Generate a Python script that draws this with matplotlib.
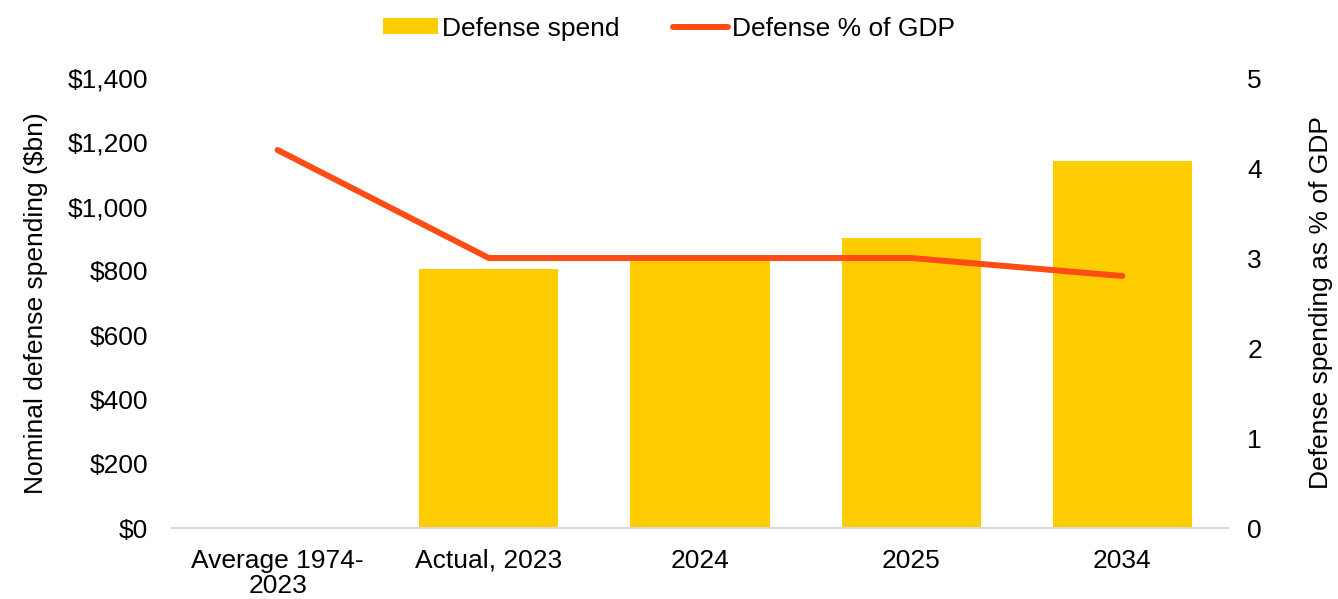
import numpy as np
import matplotlib.pyplot as plt

plt.rcParams['font.family'] = ['Liberation Sans', 'DejaVu Sans']

# categories and series
categories = ['Average 1974-\n2023', 'Actual, 2023', '2024', '2025', '2034']
spend = [np.nan, 806, 838, 903, 1143]      # $bn
pct_gdp = [4.2, 3.0, 3.0, 3.0, 2.8]        # % of GDP

bar_color = '#FFCC00'
line_color = '#FF4B14'
fs = 19

fig = plt.figure(figsize=(13.38, 5.99), dpi=100)
ax = fig.add_axes([172 / 1338, 71 / 599, 1056 / 1338, 450 / 599])
ax2 = ax.twinx()

x = np.arange(len(categories))
ax.bar(x, spend, width=0.66, color=bar_color, label='Defense spend', zorder=2)
ax2.plot(x, pct_gdp, color=line_color, lw=4.3, solid_capstyle='round',
         label='Defense % of GDP', zorder=3)

ax.set_xlim(-0.5, len(categories) - 0.5)
ax.set_ylim(0, 1400)
ax.set_yticks(np.arange(0, 1401, 200))
ax.set_yticklabels(['${:,}'.format(v) for v in range(0, 1401, 200)])
ax2.set_ylim(0, 5)
ax2.set_yticks(range(6))

ax.set_xticks(x)
ax.set_xticklabels(categories, fontsize=fs, linespacing=1.08)

for a in (ax, ax2):
    for s in a.spines.values():
        s.set_visible(False)
    a.tick_params(length=0, labelsize=fs, colors='black')
ax.spines['bottom'].set_visible(True)
ax.spines['bottom'].set_color('#D9D9D9')
ax.spines['bottom'].set_linewidth(1.5)
ax.tick_params(axis='x', pad=15)
ax.tick_params(axis='y', pad=17)
ax2.tick_params(axis='y', pad=14)

ax.set_ylabel('Nominal defense spending ($bn)', fontsize=fs, labelpad=14)
ax2.set_ylabel('Defense spending as % of GDP', fontsize=fs, labelpad=34)

# put the line above the bars
ax.set_zorder(ax2.get_zorder() - 1)
ax.patch.set_visible(False)

h1, l1 = ax.get_legend_handles_labels()
h2, l2 = ax2.get_legend_handles_labels()
fig.legend(h1 + h2, l1 + l2, loc='upper center', bbox_to_anchor=(0.5, 1.012),
           ncol=2, frameon=False, fontsize=fs, handlelength=2.1,
           handleheight=0.55, handletextpad=0.15, columnspacing=2.0)

fig.savefig('out.png', dpi=100)
